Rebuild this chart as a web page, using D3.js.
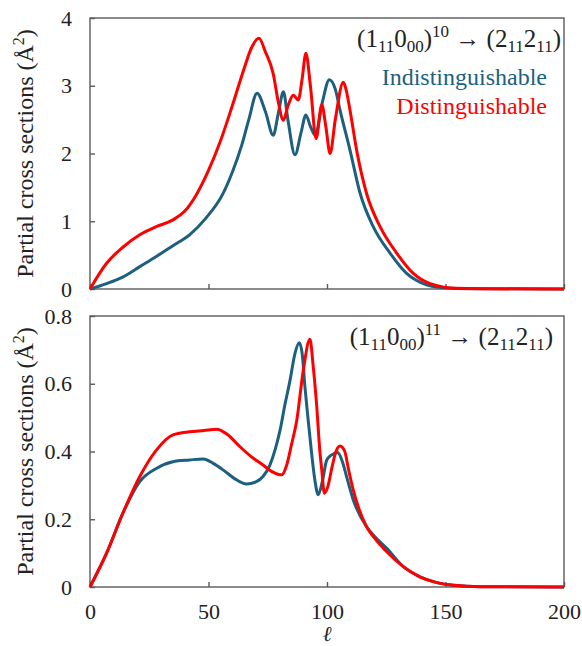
<!DOCTYPE html>
<html>
<head>
<meta charset="utf-8">
<script src="https://cdn.jsdelivr.net/npm/d3@7"></script>
</head>
<body style="margin:0">
<svg id="chart" width="582" height="646"></svg>
<script>
// partial cross sections vs l, two transitions

const width = 582;
const height = 646;
const fontSerif = "Liberation Serif";

const teal = "#1c5f7e";
const red = "#ff0000";

// top panel (1_11 0_00)^10 -> (2_11 2_11)
const ellTopInd = [0, 7, 14, 21, 28, 35, 42, 49, 56, 60, 64, 67, 70.5, 74, 77.3, 79.5, 81.6, 83.5, 86.5, 89, 91.1, 93, 95, 98, 101, 103.5, 105.5, 109.7, 114, 119.5, 126.6, 133.6, 140.6, 149, 160, 200];
const topInd = [0, 0.08, 0.18, 0.33, 0.48, 0.64, 0.80, 1.05, 1.40, 1.72, 2.12, 2.50, 2.89, 2.62, 2.27, 2.60, 2.91, 2.50, 1.98, 2.30, 2.57, 2.40, 2.27, 2.75, 3.09, 2.95, 2.64, 2.05, 1.41, 0.92, 0.53, 0.23, 0.08, 0.02, 0.005, 0];

const ellTopDis = [0, 7, 14, 21, 28, 35, 40, 45, 50, 55, 60, 65, 68, 71.3, 74, 77.3, 79.5, 81.6, 83.5, 85.8, 87.9, 89.5, 91.1, 93, 95.4, 97.8, 99.5, 101.3, 103.5, 106.9, 108, 109.7, 112.5, 116.7, 122.4, 129.4, 136.4, 143.5, 154.7, 165, 200];
const topDis = [0, 0.38, 0.62, 0.80, 0.92, 1.02, 1.15, 1.40, 1.75, 2.18, 2.70, 3.25, 3.55, 3.70, 3.50, 3.18, 2.75, 2.49, 2.70, 2.86, 2.79, 3.10, 3.48, 3.00, 2.22, 2.72, 2.40, 2.00, 2.50, 3.05, 2.95, 2.64, 2.05, 1.41, 0.92, 0.53, 0.23, 0.08, 0.01, 0.003, 0];

// bottom panel (1_11 0_00)^11 -> (2_11 2_11)
const ellBotInd = [0, 7, 14, 21, 28, 35, 42, 47.8, 52, 56.3, 61, 66, 70, 73, 75.9, 78.3, 80.2, 82.3, 84.4, 86.5, 88.3, 89.5, 90.7, 92.1, 93.5, 95, 96.3, 98, 99.9, 102, 104.5, 106.5, 108.5, 111.1, 116.7, 120, 125.2, 132.2, 139.2, 146.3, 153.4, 165, 200];
const botInd = [0, 0.10, 0.22, 0.311, 0.35, 0.37, 0.375, 0.378, 0.365, 0.345, 0.32, 0.304, 0.31, 0.326, 0.36, 0.41, 0.463, 0.54, 0.61, 0.69, 0.721, 0.69, 0.59, 0.49, 0.395, 0.31, 0.272, 0.31, 0.375, 0.39, 0.397, 0.37, 0.32, 0.257, 0.178, 0.15, 0.114, 0.06, 0.03, 0.013, 0.005, 0.001, 0];

const ellBotDis = [0, 7, 14, 21, 28, 35, 42, 48, 53.5, 58, 63.3, 68, 73, 77, 80.9, 83, 85, 87.2, 90, 92.8, 94.2, 95.6, 97, 97.8, 98.9, 100.5, 102, 103.8, 105.5, 107.5, 109, 111.1, 113.5, 116.7, 120, 125.2, 132.2, 139.2, 146.3, 153.4, 165, 200];
const botDis = [0, 0.10, 0.22, 0.326, 0.404, 0.449, 0.458, 0.462, 0.466, 0.45, 0.414, 0.385, 0.36, 0.34, 0.331, 0.36, 0.42, 0.49, 0.64, 0.731, 0.65, 0.54, 0.40, 0.345, 0.277, 0.30, 0.35, 0.40, 0.416, 0.40, 0.35, 0.286, 0.23, 0.178, 0.145, 0.104, 0.06, 0.03, 0.013, 0.005, 0.001, 0];

const xTicks = [0, 50, 100, 150, 200];
const topYTicks = [0, 1, 2, 3, 4];
const botYTicks = [0, 0.2, 0.4, 0.6, 0.8];

const left = 90, right = 564;

const svg = d3.select("#chart");

const x = d3.scaleLinear().domain([0, 200]).range([left, right]);

// every text gets its own family, size and fill
function label(sel, size, fill) {
  return sel.style("font-family", `'${fontSerif}'`)
            .style("font-size", size + "px")
            .attr("fill", fill || "#222");
}

function drawPanel(cfg) {
  const y = d3.scaleLinear().domain(cfg.yDomain).range([cfg.bottom, cfg.top]);
  const g = svg.append("g");

  // frame
  g.append("rect")
   .attr("x", left).attr("y", cfg.top)
   .attr("width", right - left).attr("height", cfg.bottom - cfg.top)
   .attr("fill", "none")
   .attr("stroke", "#5a5a5a")
   .attr("stroke-width", 1.4);

  // inward ticks
  const xAxis = d3.axisBottom(x).tickValues(xTicks).tickSizeInner(-5).tickSizeOuter(0)
                  .tickFormat(cfg.showX ? d3.format("d") : "");
  const gx = g.append("g").attr("transform", `translate(0,${cfg.bottom})`).call(xAxis);
  gx.attr("font-family", null).attr("font-size", null);
  gx.select(".domain").remove();
  gx.selectAll(".tick line").attr("stroke", "#5a5a5a").attr("stroke-width", 1.4);
  label(gx.selectAll(".tick text").attr("y", 16), 22);

  const yAxis = d3.axisLeft(y).tickValues(cfg.yTicks).tickSizeInner(-5).tickSizeOuter(0)
                  .tickFormat(cfg.yFormat);
  const gy = g.append("g").attr("transform", `translate(${left},0)`).call(yAxis);
  gy.attr("font-family", null).attr("font-size", null);
  gy.select(".domain").remove();
  gy.selectAll(".tick line").attr("stroke", "#5a5a5a").attr("stroke-width", 1.4);
  label(gy.selectAll(".tick text").attr("x", -18), 22);

  const line = d3.line()
                 .x(d => x(d[0]))
                 .y(d => y(d[1]))
                 .curve(d3.curveMonotoneX);

  g.append("path")
   .datum(d3.zip(cfg.ellInd, cfg.ind))
   .attr("d", line)
   .attr("fill", "none")
   .attr("stroke", teal)
   .attr("stroke-width", 3);

  g.append("path")
   .datum(d3.zip(cfg.ellDis, cfg.dis))
   .attr("d", line)
   .attr("fill", "none")
   .attr("stroke", red)
   .attr("stroke-width", 3);

  // y label
  label(g.append("text"), 24)
   .attr("transform", `translate(33,${(cfg.top + cfg.bottom) / 2}) rotate(-90)`)
   .attr("text-anchor", "middle")
   .text("Partial cross sections (Å")
   .call(t => t.append("tspan").style("font-size", "16px").attr("dy", -9).text("2"))
   .call(t => t.append("tspan").attr("dy", 9).text(")"));

  // transition label
  const title = label(g.append("text"), 25)
    .attr("x", cfg.titleRight)
    .attr("y", cfg.top + 29)
    .attr("text-anchor", "end");
  const parts = [
    ["(1", 0], ["11", 1], ["0", 0], ["00", 1], [")", 0], [cfg.sup, -1],
    [" \u2192 (2", 0], ["11", 1], ["2", 0], ["11", 1], [")", 0]
  ];
  let shift = 0;
  parts.forEach(([s, kind]) => {
    const target = kind === 1 ? 5 : kind === -1 ? -10 : 0;
    title.append("tspan")
         .attr("dy", target - shift)
         .style("font-size", kind === 0 ? "25px" : "17px")
         .text(s);
    shift = target;
  });

  if (cfg.legend) {
    label(g.append("text"), 24, teal)
     .attr("x", 547).attr("y", 85)
     .attr("text-anchor", "end")
     .text("Indistinguishable");
    label(g.append("text"), 24, red)
     .attr("x", 547).attr("y", 114)
     .attr("text-anchor", "end")
     .text("Distinguishable");
  }
}

drawPanel({
  top: 18, bottom: 289, yDomain: [0, 4], yTicks: topYTicks,
  yFormat: d3.format("d"), showX: false,
  ellInd: ellTopInd, ind: topInd, ellDis: ellTopDis, dis: topDis,
  sup: "10", titleRight: 561, legend: true
});

drawPanel({
  top: 316, bottom: 587, yDomain: [0, 0.8], yTicks: botYTicks,
  yFormat: d => d === 0 ? "0" : d3.format(".1f")(d), showX: true,
  ellInd: ellBotInd, ind: botInd, ellDis: ellBotDis, dis: botDis,
  sup: "11", titleRight: 553, legend: false
});

// x label
label(svg.append("text"), 21)
   .attr("x", x(100))
   .attr("y", 641)
   .attr("text-anchor", "middle")
   .style("font-style", "italic")
   .text("\u2113");
</script>
</body>
</html>
